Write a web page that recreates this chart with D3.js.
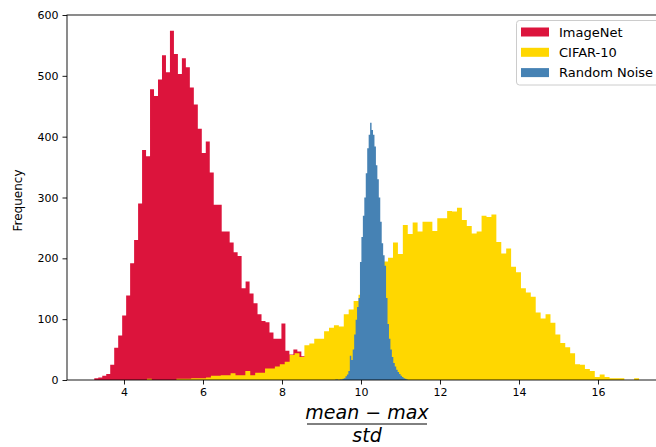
<!DOCTYPE html>
<meta charset="utf-8">
<script src="https://d3js.org/d3.v7.min.js"></script>
<style>
body { margin: 0; background: #fff; }
text { font-family: "DejaVu Sans", sans-serif; fill: #000; }
</style>
<div id="chart"></div>
<script>
// histogram bins: start, bin width, counts per bin
var imagenetStart = 3.248, imagenetWidth = 0.1008;
var imagenetCounts = [3, 4, 7, 10, 25, 53, 73, 106, 139, 192, 230, 290, 378, 368, 478, 467, 494, 534, 506, 574,
  536, 503, 529, 514, 481, 453, 413, 373, 392, 341, 288, 288, 244, 244, 226, 210, 204, 151, 162, 142,
  126, 108, 97, 95, 78, 68, 68, 93, 48, 42, 50, 47, 39];

var cifarStart = 4.58, cifarWidth = 0.1246;
var cifarCounts = [2, 0, 0, 0, 0, 0, 2, 2, 2, 3, 3, 3, 4, 7, 7, 8, 8, 11, 8, 8,
  15, 8, 12, 12, 19, 19, 22, 26, 30, 41, 44, 38, 57, 60, 68, 68, 80, 86, 90, 88,
  108, 116, 130, 140, 150, 160, 170, 180, 195, 201, 226, 207, 255, 240, 259, 244, 260, 260, 245, 266,
  266, 278, 277, 283, 263, 253, 241, 244, 270, 268, 272, 227, 208, 216, 186, 177, 151, 144, 137, 111,
  101, 108, 94, 75, 61, 54, 44, 26, 25, 18, 15, 5, 9, 5, 3, 3, 3, 0, 0, 3];

var noiseStart = 9.35, noiseWidth = 0.0367;
var noiseCounts = [1, 1, 0, 1, 1, 2, 3, 6, 9, 15, 40, 33, 50, 75, 99, 120, 135, 194, 235, 270,
  300, 340, 381, 403, 423, 411, 403, 384, 353, 330, 300, 260, 225, 205, 188, 135, 92, 68, 50, 38,
  28, 22, 17, 13, 10, 7, 5, 3, 2, 1];

var seriesNames = ["ImageNet", "CIFAR-10", "Random Noise"];
var seriesColors = ["crimson", "gold", "steelblue"];
var xTicks = [4, 6, 8, 10, 12, 14, 16];
var yTicks = [0, 100, 200, 300, 400, 500, 600];

var W = 656, H = 447;
var margin = {top: 15, left: 67, bottom: 67};
var plotW = 600, plotH = H - margin.top - margin.bottom;

var svg = d3.select("#chart").append("svg")
  .attr("width", W).attr("height", H);

var x = d3.scaleLinear().domain([2.557, 17.747]).range([margin.left, margin.left + plotW]);
var y = d3.scaleLinear().domain([0, 600]).range([margin.top + plotH, margin.top]);

svg.append("clipPath").attr("id", "plotclip")
  .append("rect").attr("x", margin.left).attr("y", margin.top)
  .attr("width", plotW).attr("height", plotH);

function makeBins(start, width, counts) {
  var bins = counts.map(function(c, i) { return {x: start + i * width, count: c}; });
  bins.push({x: start + counts.length * width, count: counts[counts.length - 1]});
  return bins;
}

var series = [
  makeBins(imagenetStart, imagenetWidth, imagenetCounts),
  makeBins(cifarStart, cifarWidth, cifarCounts),
  makeBins(noiseStart, noiseWidth, noiseCounts)
];

var area = d3.area()
  .curve(d3.curveStepAfter)
  .x(function(d) { return x(d.x); })
  .y0(y(0))
  .y1(function(d) { return y(d.count); });

var g = svg.append("g").attr("clip-path", "url(#plotclip)");
series.forEach(function(bins, i) {
  g.append("path").datum(bins)
    .attr("d", area)
    .attr("fill", seriesColors[i]);
});

// axes
var xAxis = svg.append("g")
  .attr("transform", "translate(0," + (margin.top + plotH) + ")")
  .call(d3.axisBottom(x).tickValues(xTicks).tickSize(4.5).tickPadding(4).tickSizeOuter(0));
var yAxis = svg.append("g")
  .attr("transform", "translate(" + margin.left + ",0)")
  .call(d3.axisLeft(y).tickValues(yTicks).tickSize(4.5).tickPadding(4).tickSizeOuter(0));
[xAxis, yAxis].forEach(function(a) {
  a.select(".domain").remove();
  a.selectAll("line").attr("stroke", "#000").attr("stroke-width", 0.9);
  a.selectAll("text").attr("font-family", "DejaVu Sans").attr("font-size", 11).attr("fill", "#000");
});

// spines
svg.append("rect")
  .attr("x", margin.left).attr("y", margin.top)
  .attr("width", plotW).attr("height", plotH)
  .attr("fill", "none").attr("stroke", "#000").attr("stroke-width", 0.9);

// y label
svg.append("text")
  .attr("transform", "translate(22," + (margin.top + plotH / 2 + 3) + ") rotate(-90)")
  .attr("text-anchor", "middle")
  .attr("font-size", 12)
  .text("Frequency");

// x label as a fraction
var labelX = 367;
var num = svg.append("text")
  .attr("x", labelX).attr("y", 419)
  .attr("text-anchor", "middle")
  .attr("font-size", 19);
num.append("tspan").attr("font-style", "italic").text("mean");
num.append("tspan").text(" \u2212 ");
num.append("tspan").attr("font-style", "italic").text("max");
svg.append("line")
  .attr("x1", 307).attr("x2", 427)
  .attr("y1", 424).attr("y2", 424)
  .attr("stroke", "#000").attr("stroke-width", 1);
svg.append("text")
  .attr("x", labelX).attr("y", 442)
  .attr("text-anchor", "middle")
  .attr("font-size", 19)
  .attr("font-style", "italic")
  .text("std");

// legend
var leg = svg.append("g").attr("transform", "translate(516.5,20.5)");
leg.append("rect")
  .attr("width", 144).attr("height", 64.5)
  .attr("rx", 3)
  .attr("fill", "#fff").attr("fill-opacity", 0.8)
  .attr("stroke", "#ccc").attr("stroke-width", 1);
seriesNames.forEach(function(name, i) {
  var row = leg.append("g").attr("transform", "translate(0," + (i * 20.3) + ")");
  row.append("rect")
    .attr("x", 4.5).attr("y", 7).attr("width", 28).attr("height", 9)
    .attr("fill", seriesColors[i]);
  row.append("text")
    .attr("x", 42.5).attr("y", 16)
    .attr("font-size", 13)
    .text(name);
});
</script>
